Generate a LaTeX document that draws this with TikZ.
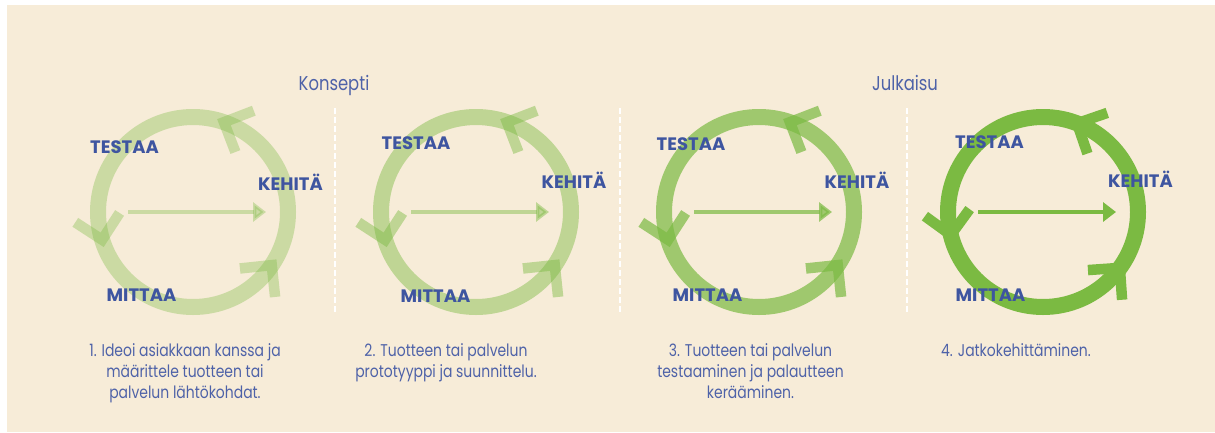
\documentclass[tikz,border=0pt]{standalone}
\usepackage{fontspec}
\usetikzlibrary{arrows.meta}
\newfontfamily\lblfont{Poppins}
\newfontfamily\thinfont[FakeStretch=0.82]{Poppins}
\definecolor{bg}{HTML}{F7ECD8}
\definecolor{grn}{HTML}{7BBA42}
\definecolor{lblblue}{HTML}{3E55A0}
\definecolor{txtblue}{HTML}{4E62A8}
\tikzset{
 ring/.style={draw=grn, line width=16pt},
 chev/.style={draw=grn, line width=10.5pt, line join=miter, line cap=butt},
 midarrow/.style={draw=grn, line width=4.5pt, -{Triangle[length=13pt,width=19pt]}},
 lbl/.style={font=\lblfont\bfseries\fontsize{18}{20}\selectfont, text=lblblue, inner sep=0pt, anchor=base},
 desc/.style={font=\thinfont\fontsize{17}{21}\selectfont, text=txtblue, align=center, inner sep=0pt, anchor=base},
 phase/.style={font=\thinfont\fontsize{20}{24}\selectfont, text=txtblue, inner sep=0pt, anchor=base},
 sep/.style={draw=white, line width=2pt, dash pattern=on 6pt off 3pt},
}
\newcommand{\drawcycle}[6]{%
 \begin{scope}[shift={(#1,212)}, yscale=-1, opacity=#2]
  \coordinate (#6) at (0,0);
  \draw[ring] (#6) circle (95);
  \foreach \a in {#3,#4,#5} {\draw[chev] (\a:95) ++(\a-50:32) -- ++(\a+130:32) -- ++(\a-140:32);}
  \coordinate (#6a) at (-65,0);
  \coordinate (#6b) at (73,0);
  \draw[midarrow] (#6a) -- (#6b);
 \end{scope}}
\begin{document}
\begin{tikzpicture}[x=1pt,y=-1pt]
\useasboundingbox (0,0) rectangle (1215,432);
\fill[white] (0,0) rectangle (1215,432);
\fill[bg] (7,5) rectangle (1215,432);

\drawcycle{193}{0.35}{71}{197}{-34}{c1}
\drawcycle{476}{0.45}{71}{197}{-34}{c2}
\drawcycle{759}{0.7}{71}{197}{-34}{c3}
\drawcycle{1043}{1}{69}{194}{-36}{c4}

\coordinate (s1a) at (334.5,108); \coordinate (s1b) at (334.5,314);
\coordinate (s2a) at (620,108); \coordinate (s2b) at (620,314);
\coordinate (s3a) at (907,108); \coordinate (s3b) at (907,314);
\draw[sep] (s1a) -- (s1b);
\draw[sep] (s2a) -- (s2b);
\draw[sep] (s3a) -- (s3b);

\node[phase] (p1) at (334,90.5) {Konsepti};
\node[phase] (p2) at (905,90.5) {Julkaisu};

\node[lbl] (t1) at (124.5,153) {TESTAA};
\node[lbl] (k1) at (290.5,190) {KEHITÄ};
\node[lbl] (m1) at (141.5,301) {MITTAA};
\node[lbl] (t2) at (416,149) {TESTAA};
\node[lbl] (k2) at (574,188) {KEHITÄ};
\node[lbl] (m2) at (435.5,302) {MITTAA};
\node[lbl] (t3) at (691,150) {TESTAA};
\node[lbl] (k3) at (857,188) {KEHITÄ};
\node[lbl] (m3) at (707.5,301) {MITTAA};
\node[lbl] (t4) at (989.5,148) {TESTAA};
\node[lbl] (k4) at (1140.5,187) {KEHITÄ};
\node[lbl] (m4) at (990.5,301) {MITTAA};

\node[desc] (d1) at (185,398) {1. Ideoi asiakkaan kanssa ja\\määrittele tuotteen tai\\palvelun lähtökohdat.};
\node[desc] (d2) at (446,377) {2. Tuotteen tai palvelun\\prototyyppi ja suunnittelu.};
\node[desc] (d3) at (750.5,398) {3. Tuotteen tai palvelun\\testaaminen ja palautteen\\kerääminen.};
\node[desc] (d4) at (1016,356) {4. Jatkokehittäminen.};
\end{tikzpicture}
\end{document}
